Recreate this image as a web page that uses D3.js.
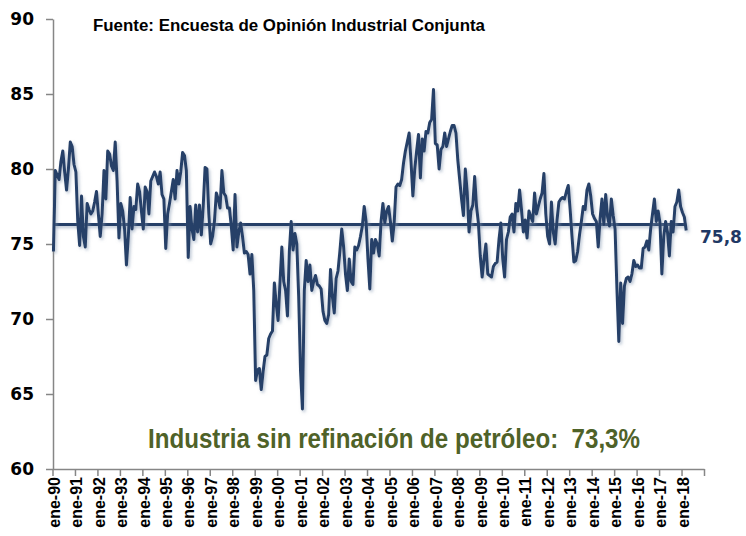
<!DOCTYPE html>
<html>
<head>
  <meta charset="utf-8">
  <title>Industria sin refinación de petróleo</title>
  <style>
    body {
      margin: 0;
      background: #fff;
    }

    #chart {
      width: 746px;
      height: 536px;
    }

    .axis path,
    .axis line {
      stroke: #868686;
      stroke-width: 1.5;
    }

    .y-axis text {
      font-family: "DejaVu Sans", sans-serif;
      font-weight: bold;
      font-size: 17px;
      fill: #000;
    }

    .x-labels text {
      font-family: "Liberation Sans", Arial, sans-serif;
      font-weight: bold;
      font-size: 16px;
      fill: #000;
    }

    .source-title {
      font-family: "Liberation Sans Narrow", "Liberation Sans", Arial, sans-serif;
      font-weight: bold;
      font-size: 16px;
      fill: #000;
    }

    .note {
      font-family: "Liberation Sans Narrow", "Liberation Sans", Arial, sans-serif;
      font-weight: bold;
      font-size: 27px;
      fill: #4f6228;
      white-space: pre;
    }

    .last-value {
      font-family: "DejaVu Sans", sans-serif;
      font-weight: bold;
      font-size: 17px;
      fill: #1f3864;
    }
  </style>
</head>
<body>
  <div id="chart"></div>

  <script src="https://d3js.org/d3.v7.min.js"></script>
  <script>
    // Monthly values, ene-90 .. mar-18
    const values1990s = [
      74.5, 79.9, 79.6, 79.3, 80.5, 81.2, 79.8, 78.6, 80.0, 81.8, 81.5, 80.3,
      79.8, 76.5, 74.9, 78.2, 75.5, 74.8, 77.7, 77.3, 77.0, 77.2, 77.8, 78.5,
      77.0, 75.5, 77.0, 79.9, 78.0, 81.2, 81.0, 80.2, 79.9, 81.8, 79.2, 75.4,
      77.7, 77.2, 76.0, 73.6, 75.5, 78.1, 76.0, 77.5, 77.3, 79.0, 78.5, 77.2,
      76.0, 78.8, 78.5, 77.0, 79.2, 79.5, 79.8, 79.5, 79.0, 79.8, 78.3, 78.0,
      74.7, 77.0, 77.7, 78.5, 79.3, 78.0, 79.9, 79.0, 79.8, 81.1, 80.9, 79.9,
      74.1, 77.5, 76.0, 75.3, 77.6, 75.8, 77.6, 75.6, 77.5, 80.1, 80.0, 77.0,
      75.0, 75.5, 76.5, 78.4, 78.0, 77.4, 79.9, 78.4, 78.2, 77.4, 77.4, 76.2,
      74.6, 78.3, 74.8, 75.8, 76.4, 75.5, 74.4, 74.5, 74.3, 73.0, 74.3, 71.9,
      65.9, 66.6, 66.7, 65.3, 66.5, 67.5, 67.6, 68.7, 69.0, 69.2, 72.4, 71.0
    ];
    const values2000s = [
      69.9, 72.4, 74.8, 72.5, 71.9, 70.2, 74.5, 76.5, 74.6, 75.7, 75.0, 71.5,
      66.5, 64.0, 71.9, 73.9, 72.5, 73.6, 71.9, 72.5, 72.9, 72.3, 72.2, 72.0,
      70.5, 69.9, 69.7, 70.3, 73.3, 71.5, 70.4, 72.7, 73.2, 74.5, 76.0, 74.8,
      73.0, 71.9, 74.0, 72.5, 72.3, 74.8, 74.6, 74.9, 75.5, 76.2, 77.5, 76.5,
      74.0, 72.0, 75.3, 74.4, 75.3, 75.0, 74.2, 76.5, 77.7, 76.4, 77.2, 77.5,
      76.5, 75.2, 76.4, 78.8, 79.0, 78.9, 79.3, 80.4, 81.2, 81.8, 82.4, 80.5,
      78.2, 80.0, 81.2, 82.3, 79.4, 82.0, 81.2, 82.5, 82.4, 83.1, 83.3, 85.3,
      81.7, 81.6, 80.0, 81.3, 81.5, 82.4, 81.5, 82.0, 82.5, 82.9, 82.9, 82.4,
      80.6, 79.3, 78.0, 76.9, 80.0, 78.5, 75.8, 77.2, 77.6, 79.5, 77.5, 76.4,
      74.2, 72.8, 74.0, 75.0, 73.0, 72.9, 72.8, 73.5, 73.7, 73.8, 75.3, 76.4
    ];
    const values2010s = [
      74.0, 72.8, 75.3, 75.8, 76.8, 77.0, 75.8, 77.7, 77.2, 78.6, 77.3, 75.8,
      76.6, 75.4, 77.2, 76.8, 76.5, 78.4, 77.0, 77.5, 78.0, 78.4, 79.7, 77.0,
      75.5, 75.0, 77.8, 75.8, 75.0, 76.6, 77.8, 78.0, 78.1, 78.0, 78.5, 78.9,
      77.3, 75.5, 73.8, 73.9, 74.5, 75.6, 76.5, 77.5, 77.3, 78.6, 79.0, 78.2,
      77.0, 76.7, 76.5, 74.8, 76.7, 78.0, 76.3, 78.3, 76.8, 76.2, 78.0, 76.9,
      76.0, 72.0, 68.5, 72.4, 69.7, 72.2, 72.7, 72.8, 72.5, 73.0, 73.9, 73.5,
      73.6, 73.4, 73.4, 74.7, 74.8, 75.2, 74.6, 76.0, 77.0, 78.0, 76.5, 77.2,
      76.4, 73.0, 75.5, 76.5, 75.8, 74.2, 76.5, 75.8, 77.5, 77.8, 78.6, 77.5,
      77.1, 76.8, 75.9
    ];
    const values = values1990s.concat(values2000s, values2010s);

    const yearLabels = ["ene-90", "ene-91", "ene-92", "ene-93", "ene-94", "ene-95",
      "ene-96", "ene-97", "ene-98", "ene-99", "ene-00", "ene-01", "ene-02", "ene-03",
      "ene-04", "ene-05", "ene-06", "ene-07", "ene-08", "ene-09", "ene-10", "ene-11",
      "ene-12", "ene-13", "ene-14", "ene-15", "ene-16", "ene-17", "ene-18"];
    const yTicks = [60, 65, 70, 75, 80, 85, 90];
    const averageValue = 76.3;
    const lastLabel = "75,8";
    const sourceText = "Fuente: Encuesta de Opinión Industrial Conjunta";
    const noteText = "Industria sin refinación de petróleo:  73,3%";

    const svg = d3.select("#chart")
      .append("svg")
      .attr("width", 746)
      .attr("height", 536);

    // soft shadow like the original office chart
    // (user space region, so the flat average line keeps its shadow too)
    const defs = svg.append("defs");
    defs.append("filter")
      .attr("id", "shadow")
      .attr("filterUnits", "userSpaceOnUse")
      .attr("x", 0).attr("y", 0)
      .attr("width", 746).attr("height", 536)
      .append("feDropShadow")
      .attr("dx", 1.5)
      .attr("dy", 2)
      .attr("stdDeviation", 1.5)
      .attr("flood-color", "#7f93ad")
      .attr("flood-opacity", 0.55);

    // scales: one slot per month, 29 years on the axis
    const nMonths = 348;
    const xScale = d3.scaleLinear()
      .domain([0, nMonths])
      .range([52.5, 704]);

    const yScale = d3.scaleLinear()
      .domain([60, 90])
      .range([469, 19]);

    // y axis
    svg.append("g")
      .attr("class", "axis y-axis")
      .attr("transform", "translate(53, 0)")
      .call(d3.axisLeft(yScale)
        .tickValues(yTicks)
        .tickSize(7)
        .tickSizeOuter(0)
        .tickPadding(12)
        .tickFormat(d3.format("d")));

    // x axis: ticks between years
    svg.append("g")
      .attr("class", "axis x-axis")
      .attr("transform", "translate(0, 469)")
      .call(d3.axisBottom(xScale)
        .tickValues(d3.range(0, nMonths + 1, 12))
        .tickSize(7)
        .tickSizeOuter(0)
        .tickFormat(""));

    // x labels at the centre of each january
    const labelAxis = svg.append("g")
      .attr("class", "x-labels")
      .attr("transform", "translate(0, 469)")
      .call(d3.axisBottom(xScale)
        .tickValues(yearLabels.map((d, k) => k * 12 + 0.5))
        .tickSize(0)
        .tickFormat((d, k) => yearLabels[k]));
    labelAxis.select(".domain").remove();
    labelAxis.selectAll("text")
      .attr("transform", "rotate(-90)")
      .attr("text-anchor", "end")
      .attr("x", -8)
      .attr("y", 0)
      .attr("dy", "0.36em");

    // average line
    svg.append("line")
      .attr("x1", xScale(0.5))
      .attr("x2", xScale(values.length - 0.5))
      .attr("y1", yScale(averageValue))
      .attr("y2", yScale(averageValue))
      .attr("stroke", "#254068")
      .attr("stroke-width", 3)
      .attr("filter", "url(#shadow)");

    // series
    const line = d3.line()
      .x((d, i) => xScale(i + 0.5))
      .y(d => yScale(d));

    svg.append("path")
      .datum(values)
      .attr("d", line)
      .attr("fill", "none")
      .attr("stroke", "#254068")
      .attr("stroke-width", 3)
      .attr("stroke-linejoin", "round")
      .attr("filter", "url(#shadow)");

    // texts
    svg.append("text")
      .attr("class", "last-value")
      .attr("x", 700)
      .attr("y", 243)
      .text(lastLabel);

    svg.append("text")
      .attr("class", "source-title")
      .attr("x", 93)
      .attr("y", 31)
      .attr("textLength", 392)
      .attr("lengthAdjust", "spacingAndGlyphs")
      .text(sourceText);

    svg.append("text")
      .attr("class", "note")
      .attr("x", 148)
      .attr("y", 448)
      .attr("textLength", 492)
      .attr("lengthAdjust", "spacingAndGlyphs")
      .text(noteText);
  </script>
</body>
</html>
